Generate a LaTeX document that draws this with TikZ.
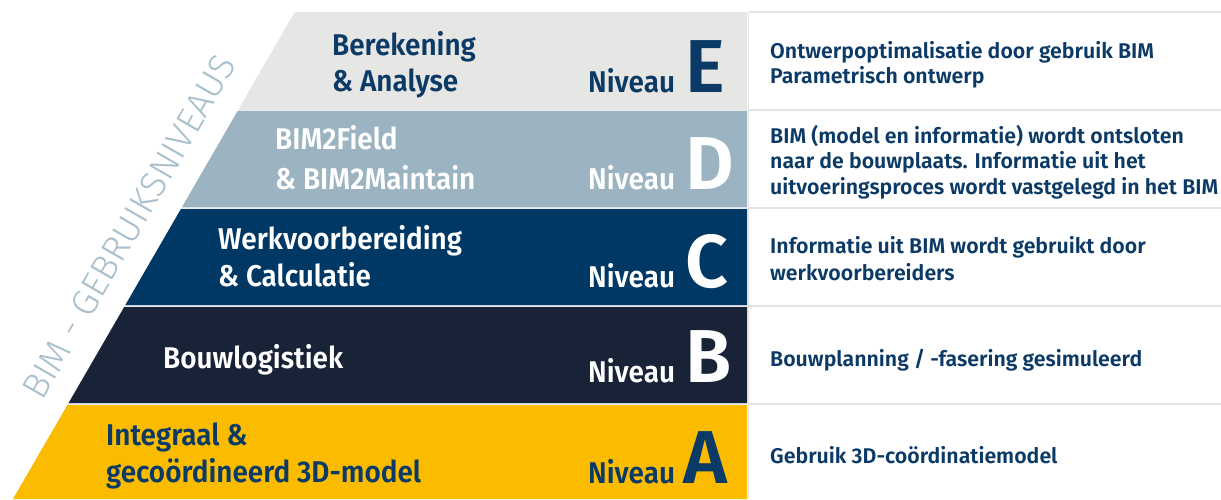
\documentclass[tikz,border=0pt]{standalone}
\usepackage{fontspec}
\setmainfont{Fira Sans}[BoldFont={Fira Sans SemiBold}]
\newfontfamily\lightfont{Fira Sans Light}
\newfontfamily\labfont{Fira Sans SemiBold}[FakeStretch=0.93]
\definecolor{bandE}{HTML}{E6E6E4}
\definecolor{bandD}{HTML}{9CB3C1}
\definecolor{bandC}{HTML}{003865}
\definecolor{bandB}{HTML}{192338}
\definecolor{bandA}{HTML}{FBBC00}
\definecolor{ink}{HTML}{0B3A66}
\definecolor{rule}{HTML}{E2E2E2}
\definecolor{slant}{HTML}{A9C0CC}
\definecolor{gap}{HTML}{E4E9EC}
\begin{document}
\begin{tikzpicture}[x=1pt,y=-1pt,
  label/.style={anchor=base west,inner sep=0pt,align=left,font=\labfont\fontsize{30}{37}\selectfont},
  niv/.style={anchor=base west,inner sep=0pt,font=\labfont\fontsize{30}{36}\selectfont},
  letter/.style={anchor=base west,inner sep=0pt,font=\bfseries\fontsize{75}{80}\selectfont},
  desc/.style={anchor=base west,inner sep=0pt,align=left,text=ink,font=\bfseries\fontsize{21.3}{26}\selectfont},
  sep/.style={draw=rule,line width=1.5pt}]
\useasboundingbox (0,0) rectangle (1221,499);
\fill[white] (0,0) rectangle (1221,499);
% pale backing that shows through the gaps between the bands
\fill[gap] ({13+(499-12)*0.579},12) -- (747,12) -- (747,499) -- (13,499) -- cycle;
% left edge x(y) = 13 + (499-y)*0.579
\fill[bandE] ({13+(499-12)*0.579},12) -- (747,12) -- (747,109) -- ({13+(499-109)*0.579},109) -- cycle;
\fill[bandD] ({13+(499-111)*0.579},111) -- (747,111) -- (747,207) -- ({13+(499-207)*0.579},207) -- cycle;
\fill[bandC] ({13+(499-209)*0.579},209) -- (747,209) -- (747,305) -- ({13+(499-305)*0.579},305) -- cycle;
\fill[bandB] ({13+(499-307)*0.579},307) -- (747,307) -- (747,403) -- ({13+(499-403)*0.579},403) -- cycle;
\fill[bandA] ({13+(499-405)*0.579},405) -- (747,405) -- (747,499) -- (13,499) -- cycle;
% right panel rules
\draw[sep] (749,12) -- (1221,12);
\draw[sep] (749,110) -- (1221,110);
\draw[sep] (749,208) -- (1221,208);
\draw[sep] (749,306) -- (1221,306);
\draw[sep] (749,404) -- (1221,404);
\draw[draw=rule,line width=0.8pt] (748.5,12) -- (748.5,499);
% slanted title
\node[anchor=base,inner sep=0pt,rotate=60,text=slant,font=\lightfont\fontsize{36.5}{36.5}\selectfont] (title) at (140,233) {BIM - GEBRUIKSNIVEAUS};
% labels (anchor = baseline of the last line)
\node[label,text=ink,font=\labfont\fontsize{30}{36}\selectfont] (lE) at (332,91) {Berekening\\\& Analyse};
\node[label,text=white,font=\labfont\fontsize{30}{40}\selectfont] (lD) at (275,189) {BIM2Field\\\& BIM2Maintain};
\node[label,text=white] (lC) at (218,286) {Werkvoorbereiding\\\& Calculatie};
\node[label,text=white] (lB) at (163,368) {Bouwlogistiek};
\node[label,text=ink] (lA) at (106,482) {Integraal \&\\gecoördineerd 3D-model};
% Niveau
\node[niv,text=ink] (nE) at (588,92) {Niveau};
\node[niv,text=white] (nD) at (588,189) {Niveau};
\node[niv,text=white] (nC) at (588,287) {Niveau};
\node[niv,text=white] (nB) at (588,382) {Niveau};
\node[niv,text=ink] (nA) at (588,483) {Niveau};
\node[letter,text=ink] (cE) at (685,92) {E};
\node[letter,text=white] (cD) at (685,189) {D};
\node[letter,text=white] (cC) at (685,287) {C};
\node[letter,text=white] (cB) at (685,382) {B};
\node[letter,text=ink] (cA) at (683,483) {A};
% descriptions
\node[desc,font=\bfseries\fontsize{21.3}{25}\selectfont] (dE) at (770,83) {Ontwerpoptimalisatie door gebruik BIM\\Parametrisch ontwerp};
\node[desc,font=\bfseries\fontsize{21.3}{25.5}\selectfont] (dD) at (770,194) {BIM (model en informatie) wordt ontsloten\\naar de bouwplaats. Informatie uit het\\uitvoeringsproces wordt vastgelegd in het BIM};
\node[desc,font=\bfseries\fontsize{21.3}{27}\selectfont] (dC) at (770,280) {Informatie uit BIM wordt gebruikt door\\werkvoorbereiders};
\node[desc] (dB) at (770,366) {Bouwplanning / -fasering gesimuleerd};
\node[desc] (dA) at (770,463) {Gebruik 3D-coördinatiemodel};
\end{tikzpicture}
\end{document}
